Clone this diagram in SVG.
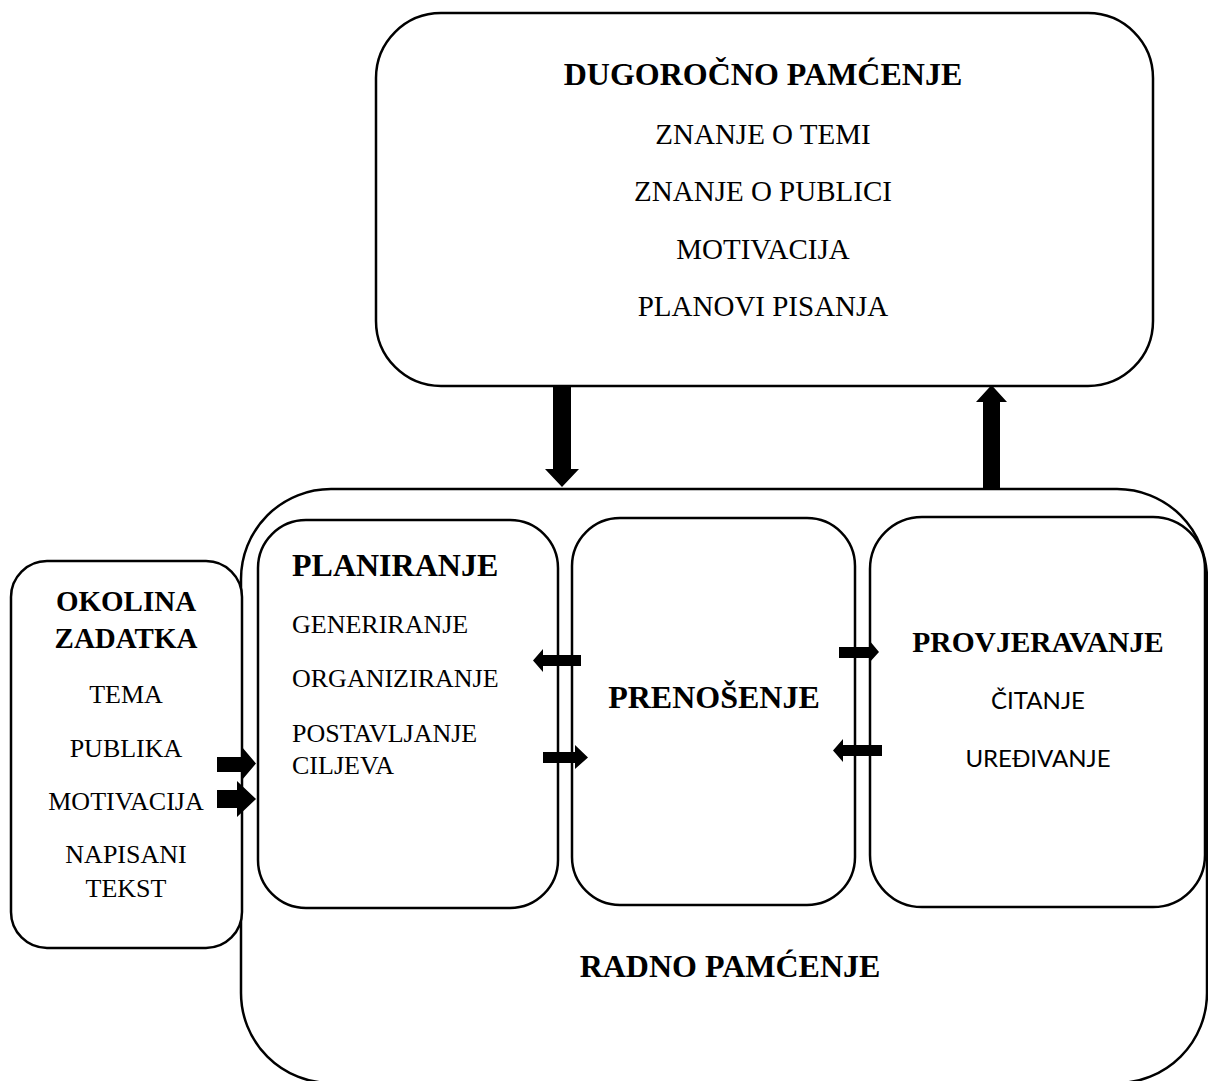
<svg xmlns="http://www.w3.org/2000/svg" width="1208" height="1081" viewBox="0 0 1208 1081">
<style>
.box{fill:#fff;stroke:#000;stroke-width:2.5}
.t{font-family:"Liberation Serif","Times New Roman",serif;fill:#000}
.b{font-weight:bold}
.c{text-anchor:middle}
.s{font-family:Lato,"Liberation Sans",sans-serif;fill:#000}
.arr{fill:#000;stroke:none}
</style>
<rect width="1208" height="1081" fill="#fff"/>
<g id="radno-pamcenje">
<rect class="box" x="241" y="489" width="966" height="594" rx="90" ry="90"/>
<text class="t b c" x="730" y="977" font-size="32">RADNO PAMĆENJE</text>
</g>
<g id="dugorocno-pamcenje">
<rect class="box" x="376" y="13" width="777" height="373" rx="65" ry="65"/>
<text class="t b c" x="763" y="85" font-size="32">DUGOROČNO PAMĆENJE</text>
<text class="t c" x="763" y="144" font-size="29">ZNANJE O TEMI</text>
<text class="t c" x="763" y="201" font-size="29">ZNANJE O PUBLICI</text>
<text class="t c" x="763" y="259" font-size="29">MOTIVACIJA</text>
<text class="t c" x="763" y="316" font-size="29">PLANOVI PISANJA</text>
</g>
<g id="planiranje">
<rect class="box" x="258" y="520" width="300" height="388" rx="48" ry="48"/>
<text class="t b" x="292" y="576" font-size="32">PLANIRANJE</text>
<text class="t" x="292" y="633" font-size="26">GENERIRANJE</text>
<text class="t" x="292" y="687" font-size="26">ORGANIZIRANJE</text>
<text class="t" x="292" y="742" font-size="26">POSTAVLJANJE</text>
<text class="t" x="292" y="774" font-size="26">CILJEVA</text>
</g>
<g id="prenosenje">
<rect class="box" x="572" y="518" width="283" height="387" rx="48" ry="48"/>
<text class="t b c" x="714" y="708" font-size="32">PRENOŠENJE</text>
</g>
<g id="provjeravanje">
<rect class="box" x="870" y="517" width="335" height="390" rx="52" ry="52"/>
<text class="t b c" x="1038" y="652" font-size="29.5">PROVJERAVANJE</text>
<text class="s c" x="1038" y="709" font-size="24">ČITANJE</text>
<text class="s c" x="1038" y="767" font-size="24">UREĐIVANJE</text>
</g>
<g id="okolina-zadatka">
<rect class="box" x="11" y="561" width="231" height="387" rx="36" ry="36"/>
<text class="t b c" x="126" y="611" font-size="29">OKOLINA</text>
<text class="t b c" x="126" y="648" font-size="29">ZADATKA</text>
<text class="t c" x="126" y="703" font-size="26">TEMA</text>
<text class="t c" x="126" y="757" font-size="26">PUBLIKA</text>
<text class="t c" x="126" y="810" font-size="26">MOTIVACIJA</text>
<text class="t c" x="126" y="863" font-size="26">NAPISANI</text>
<text class="t c" x="126" y="897" font-size="26">TEKST</text>
</g>
<g id="connectors">
<polygon class="arr" points="553,386 571,386 571,469 579,469 562,487 545,469 553,469"/>
<polygon class="arr" points="991.5,385 1007,402 1000,402 1000,489 983,489 983,402 976,402"/>
<polygon class="arr" points="217,757 242,757 242,747 256,763.5 242,780 242,772 217,772"/>
<polygon class="arr" points="217,790 237,790 237,781 256,799 237,817 237,808 217,808"/>
<polygon class="arr" points="581,655 543,655 543,649 533,660.5 543,672 543,666 581,666"/>
<polygon class="arr" points="543,752 575,752 575,745 588,757.5 575,769 575,763 543,763"/>
<polygon class="arr" points="839,647 869,647 869,640 879,652 869,663 869,658 839,658"/>
<polygon class="arr" points="882,745 843,745 843,739 833,750.5 843,762 843,756 882,756"/>
</g>
</svg>
